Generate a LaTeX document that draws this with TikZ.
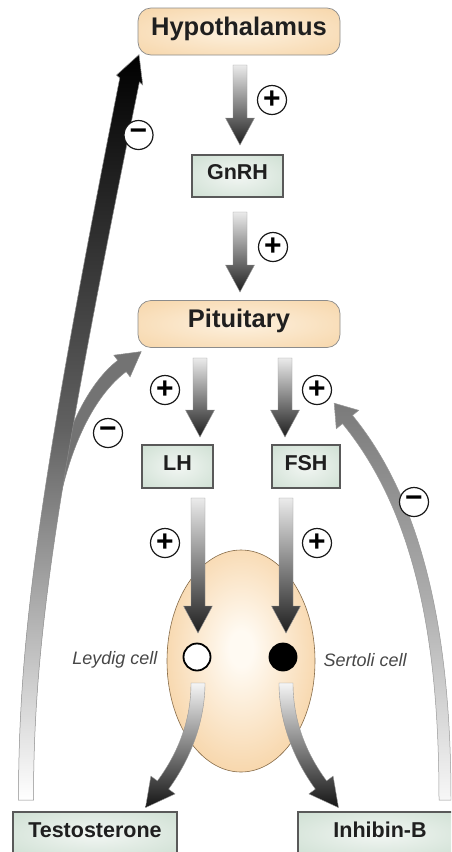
\documentclass[tikz,border=0pt]{standalone}
\usepackage{fontspec}
\setmainfont{Liberation Sans}
\usetikzlibrary{shapes.geometric,calc}
\definecolor{peachout}{HTML}{F5CF9C}
\definecolor{peachin}{HTML}{FDF1DF}
\definecolor{greenout}{HTML}{C6DACB}
\definecolor{greenin}{HTML}{F2F6F3}
\definecolor{testisout}{HTML}{F3C283}
\definecolor{testisin}{HTML}{FFFAF2}
\pgfdeclareradialshading{peachshade}{\pgfpoint{0bp}{0bp}}{color(0bp)=(peachin); color(45bp)=(peachout); color(50bp)=(peachout)}
\pgfdeclareradialshading{greenshade}{\pgfpoint{0bp}{0bp}}{color(0bp)=(greenin); color(45bp)=(greenout); color(50bp)=(greenout)}
\pgfdeclareradialshading{testisshade}{\pgfpoint{0bp}{3bp}}{color(0bp)=(testisin); color(4bp)=(testisin); color(40bp)=(testisout); color(50bp)=(testisout)}
\tikzset{
  peach/.style={rectangle, rounded corners=13pt, draw=black!45, line width=0.7pt,
    shading=peachshade, minimum width=202pt, minimum height=47pt,
    font=\bfseries\fontsize{25.5}{26}\selectfont, text=black!88,
    text height=0.72em, text depth=0pt},
  greenbox/.style={rectangle, draw=black!65, line width=1.1pt, shading=greenshade,
    font=\bfseries\fontsize{21.5}{22}\selectfont, text=black!88,
    text height=0.72em, text depth=0pt, inner sep=0pt},
  sign/.style={circle, draw=black!90, line width=1.2pt, fill=white,
    minimum size=29pt, inner sep=0pt, font=\bfseries\fontsize{30}{30}\selectfont},
  celllab/.style={font=\itshape\fontsize{18}{18}\selectfont, text=black!72},
  cellnode/.style={circle, draw=black, line width=1.8pt, minimum size=27pt, inner sep=0pt},
  varrow/.style={draw=black!40, line width=0.4pt, top color=black!8, bottom color=black!88},
  curvarrow/.style={draw=black!40, line width=0.4pt, top color=black!4, bottom color=black!92},
  leftfb/.style={draw=black!45, line width=0.5pt, top color=black, bottom color=white, middle color=black!62},
  branchfb/.style={draw=black!45, line width=0.5pt, fill=black!55},
  rightfb/.style={draw=black!40, line width=0.5pt, top color=black!52, bottom color=black!3, middle color=black!32}
}
\newcommand{\hormonearrow}[2]{%
  \shadedraw[varrow] let \p1=(#1), \p2=(#2) in
    (\x1-7pt,\y1) -- (\x1+7pt,\y1) -- (\x1+7pt,\y2+27pt) -- (\x1+14.5pt,\y2+27pt)
    -- (\x1,\y2) -- (\x1-14.5pt,\y2+27pt) -- (\x1-7pt,\y2+27pt) -- cycle;}
\begin{document}
\begin{tikzpicture}[x=1pt,y=-1pt]
\useasboundingbox (0,0) rectangle (451,852);
\clip (0,0) rectangle (451,852);
\fill[white] (0,0) rectangle (451,852);

% testis and cells
\node[ellipse, draw=black!45!testisout, line width=0.6pt, shading=testisshade,
  minimum width=148pt, minimum height=222pt, inner sep=0pt] (testis) at (241,661) {};
\node[cellnode, fill=white] (leydig) at (197,657) {};
\node[cellnode, fill=black] (sertoli) at (283,657) {};
\node[celllab, anchor=east] (leydiglab) at (161,660) {Leydig cell};
\node[celllab, anchor=west] (sertolilab) at (320,660) {Sertoli cell};

% feedback arrows
\filldraw[branchfb] (44,545) .. controls (53,450) and (85.1,385.1) .. (117.8,360.4)
  -- (113.9,355.2) -- (141.2,351.6) -- (130.1,376.8) -- (126.2,371.6)
  .. controls (94.9,394.9) and (64,450) .. (52,545) -- cycle;
\shadedraw[leftfb] (18.5,800) .. controls (18.5,640) and (38.5,489.8) .. (119.8,78)
  -- (116.5,75.1) -- (139,54.7) -- (142.7,84.9) -- (139.4,82)
  .. controls (56.1,493.4) and (33.5,640) .. (33.5,800) -- cycle;
\shadedraw[rightfb] (439,800) .. controls (439,650) and (418.5,516.5) .. (342.5,423.6)
  -- (336.3,428.7) -- (334.2,403.2) -- (358.7,410.3) -- (352.5,415.4)
  .. controls (428.5,508.3) and (451,650) .. (451,800) -- cycle;

% secretion arrows from cells
\shadedraw[curvarrow] (191,683) .. controls (191,720) and (178.6,752.2) .. (157.4,780.9)
  -- (150.9,776.1) -- (145.5,807.6) -- (175.1,793.9) -- (168.6,789.1)
  .. controls (191.4,757.8) and (205,720) .. (205,683) -- cycle;
\shadedraw[curvarrow] (293,683) .. controls (293,720) and (305.4,752.2) .. (326.6,780.9)
  -- (333.1,776.1) -- (338.5,807.6) -- (308.9,793.9) -- (315.4,789.1)
  .. controls (292.6,757.8) and (279,720) .. (279,683) -- cycle;

% straight stimulating arrows
\coordinate (s1) at (240,65);  \coordinate (t1) at (240,145);
\coordinate (s2) at (240,212); \coordinate (t2) at (240,292);
\coordinate (s3) at (200,358); \coordinate (t3) at (200,437);
\coordinate (s4) at (285,358); \coordinate (t4) at (285,437);
\coordinate (s5) at (198,498); \coordinate (t5) at (198,633);
\coordinate (s6) at (286,498); \coordinate (t6) at (286,633);
\hormonearrow{s1}{t1}
\hormonearrow{s2}{t2}
\hormonearrow{s3}{t3}
\hormonearrow{s4}{t4}
\hormonearrow{s5}{t5}
\hormonearrow{s6}{t6}

% boxes
\node[peach] (hyp) at (239,31.5) {Hypothalamus};
\node[peach] (pit) at (239,324) {Pituitary};
\node[greenbox, minimum width=91pt, minimum height=42pt] (gnrh) at (237.5,176) {GnRH};
\node[greenbox, minimum width=71pt, minimum height=43pt] (lh) at (177.5,466.5) {LH};
\node[greenbox, minimum width=68pt, minimum height=43pt] (fsh) at (306,466.5) {FSH};
\node[greenbox, minimum width=164pt, minimum height=44pt] (testo) at (95,834) {Testosterone};
\node[greenbox, minimum width=164pt, minimum height=44pt] (inh) at (380,834) {Inhibin-B};

% signs
\node[sign] (p1) at (272,100) {+};
\node[sign] (p2) at (273,247) {+};
\node[sign] (p3) at (165,390) {+};
\node[sign] (p4) at (317,390) {+};
\node[sign] (p5) at (165,543) {+};
\node[sign] (p6) at (317,543) {+};
\node[sign] (m1) at (138.5,135) {−};
\node[sign] (m2) at (108,433) {−};
\node[sign] (m3) at (414,502) {−};
\end{tikzpicture}
\end{document}
